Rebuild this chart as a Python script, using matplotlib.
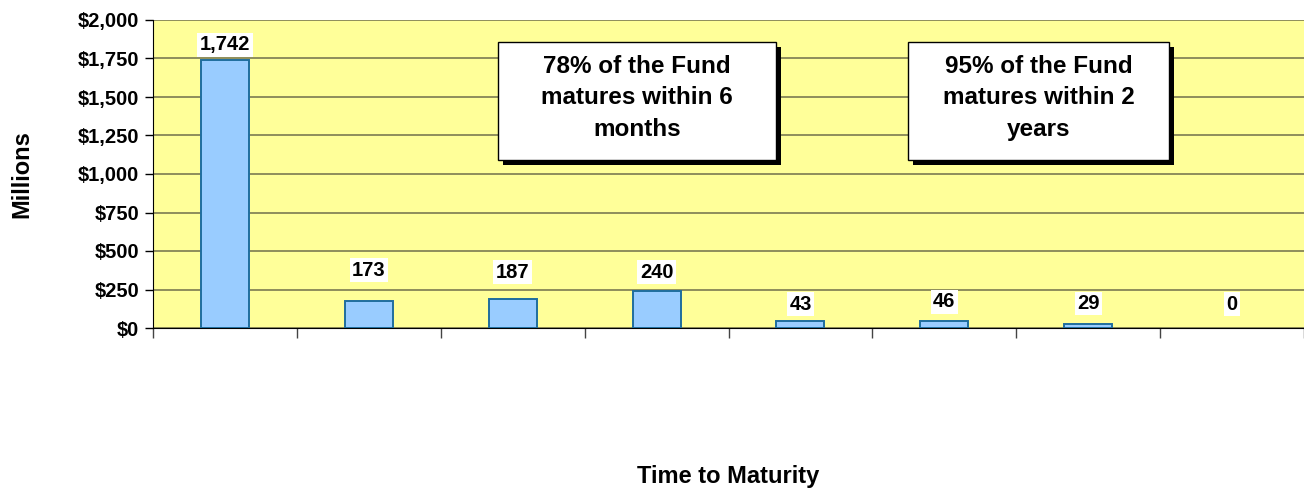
import matplotlib
matplotlib.use("Agg")
import matplotlib.pyplot as plt
from matplotlib.patches import Rectangle
from matplotlib.ticker import FuncFormatter

# ---- data ----
values = [1742, 173, 187, 240, 43, 46, 29, 0]
value_labels = ["1,742", "173", "187", "240", "43", "46", "29", "0"]
y_ticks = [0, 250, 500, 750, 1000, 1250, 1500, 1750, 2000]
note_texts = ["78% of the Fund\nmatures within 6\nmonths",
              "95% of the Fund\nmatures within 2\nyears"]
x_title = "Time to Maturity"
y_title = "Millions"

# ---- style ----
label_offsets_px = [15, 31, 27, 19, 17, 19, 20, 24]
FONT = "Liberation Sans"
plt.rcParams['font.family'] = [FONT, 'DejaVu Sans']

fig = plt.figure(figsize=(13.04, 4.88), dpi=100)
W, H = 1304, 488
ax = fig.add_axes([153 / W, (H - 328) / H, 1151 / W, 308 / H])
ax.set_facecolor("#FFFF99")

x = list(range(1, len(values) + 1))
edges = ["#1f6e9e" if v > 0 else "none" for v in values]
ax.bar(x, values, width=0.333, color="#99CCFF", edgecolor=edges,
       linewidth=1.4, zorder=3)

ax.set_xlim(0.5, len(values) + 0.5)
ax.set_ylim(0, 2000)
ax.set_yticks(y_ticks)
ax.yaxis.set_major_formatter(FuncFormatter(lambda v, p: f"${v:,.0f}"))
ax.set_xticks([i + 0.5 for i in range(len(values) + 1)])
ax.set_xticklabels([])
ax.grid(axis="y", color="#7c7a52", linewidth=1.2, zorder=1)
for s in ["top", "right"]:
    ax.spines[s].set_visible(False)
ax.spines["left"].set_color("black")
ax.spines["bottom"].set_color("black")
ax.tick_params(axis="y", length=6, width=1, labelsize=14.5, pad=4)
ax.tick_params(axis="x", length=7, width=1, color="#444444")
for lab in ax.get_yticklabels():
    lab.set_fontweight("bold")

for xi, v, lab, off in zip(x, values, value_labels, label_offsets_px):
    ax.annotate(lab, (xi, v), xytext=(0, off), textcoords="offset pixels",
                ha="center", va="center", fontsize=14.5, fontweight="bold",
                bbox=dict(boxstyle="square,pad=0.12", fc="white", ec="none"),
                zorder=5)

# annotation boxes (axes fraction)
boxes = [(0.2997, 0.5455, 0.2415, 0.383), (0.656, 0.5455, 0.2268, 0.383)]
sx, sy = 5 / 1151, 5 / 308
for (bx, by, bw, bh), txt in zip(boxes, note_texts):
    ax.add_patch(Rectangle((bx + sx, by - sy), bw, bh, transform=ax.transAxes,
                           fc="black", ec="none", zorder=6, clip_on=False))
    ax.add_patch(Rectangle((bx, by), bw, bh, transform=ax.transAxes,
                           fc="white", ec="black", lw=1, zorder=7, clip_on=False))
    ax.text(bx + bw / 2, by + bh / 2 + 0.01, txt, transform=ax.transAxes,
            ha="center", va="center", fontsize=17.5, fontweight="bold",
            linespacing=1.45, zorder=8)

fig.text(728 / W, 1 - 477 / H, x_title, ha="center", va="center",
         fontsize=17, fontweight="bold")
fig.text(22 / W, 1 - 174 / H, y_title, ha="center", va="center",
         rotation=90, fontsize=17, fontweight="bold")

fig.savefig("out.png", dpi=100)
